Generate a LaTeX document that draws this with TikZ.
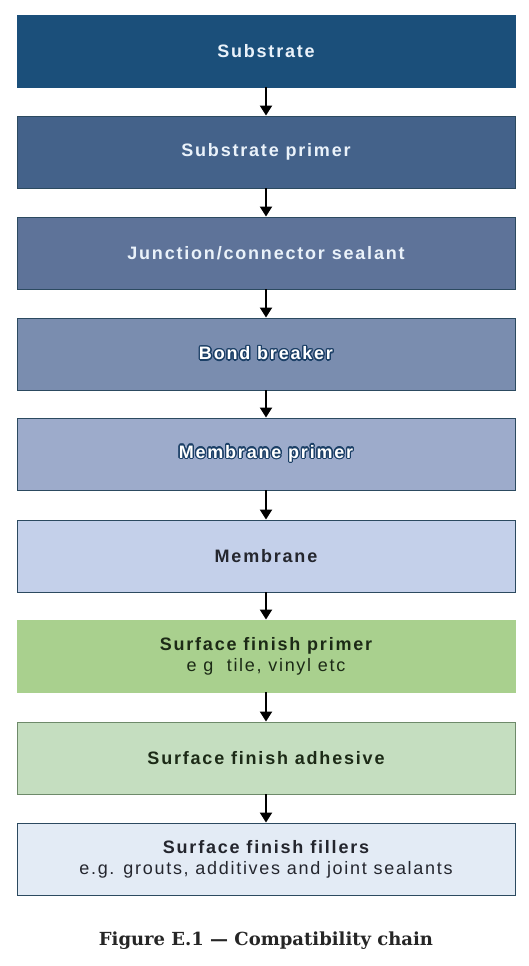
\documentclass[tikz,border=0pt]{standalone}
\usepackage{fontspec}
\usepackage{contour}
\contourlength{1.3pt}
\contournumber{16}
\usetikzlibrary{arrows.meta}
\newfontfamily\boxbf{Liberation Sans Bold}[LetterSpace=10]
\newfontfamily\boxrm{Liberation Sans}[LetterSpace=9.5]
\newfontfamily\capfont{DejaVu Serif}
\definecolor{cA}{HTML}{1B4F7A}
\definecolor{cB}{HTML}{44628A}
\definecolor{cC}{HTML}{5E7399}
\definecolor{cD}{HTML}{7A8DAF}
\definecolor{cE}{HTML}{9DABCB}
\definecolor{cF}{HTML}{C4D0EA}
\definecolor{cG}{HTML}{A9D08E}
\definecolor{cH}{HTML}{C5DEC0}
\definecolor{cI}{HTML}{E3EBF5}
\definecolor{edgeblue}{HTML}{2C4A60}
\definecolor{edgegreen}{HTML}{6E8A6A}
\definecolor{lighttext}{HTML}{EAF2FA}
\definecolor{outl}{HTML}{1B3F66}
\definecolor{darktext}{HTML}{24262E}
\definecolor{greentext}{HTML}{1C2A16}
\begin{document}
\begin{tikzpicture}[x=1pt,y=-1pt,
  box/.style={draw=edgeblue, line width=0.9pt, minimum width=498pt, minimum height=72pt,
    inner sep=0pt, align=center, font=\fontsize{18}{21}\boxbf},
  conn/.style={line width=2pt, -{Triangle[width=12pt,length=10pt]}}]
\fill[white] (0,0) rectangle (529,966);
\node[box, fill=cA, draw=cA, text=lighttext] (b1) at (266,51) {Substrate};
\node[box, fill=cB, text=lighttext] (b2) at (266,152) {Substrate primer};
\node[box, fill=cC, text=lighttext] (b3) at (266,253) {Junction/connector sealant};
\node[box, fill=cD, text=white] (b4) at (266,354) {\contour{outl}{Bond breaker}};
\node[box, fill=cE, text=white] (b5) at (266,454) {\contour{outl}{Membrane primer}};
\node[box, fill=cF, text=darktext] (b6) at (266,556) {Membrane};
\node[box, fill=cG, draw=cG, text=greentext] (b7) at (266,656) {Surface finish primer\\{\boxrm e g\ \ tile, vinyl etc}};
\node[box, fill=cH, draw=edgegreen, text=greentext] (b8) at (266,758) {Surface finish adhesive};
\node[box, fill=cI, text=darktext] (b9) at (266,859) {Surface finish fillers\\{\boxrm e.g. grouts, additives and joint sealants}};
\foreach \a/\b in {b1/b2,b2/b3,b3/b4,b4/b5,b5/b6,b6/b7,b7/b8,b8/b9}
  \draw[conn] (\a.south) -- (\b.north);
\node[font=\fontsize{18}{21}\capfont\bfseries, text=black!85] (cap) at (266,941) {Figure E.1 — Compatibility chain};
\end{tikzpicture}
\end{document}
